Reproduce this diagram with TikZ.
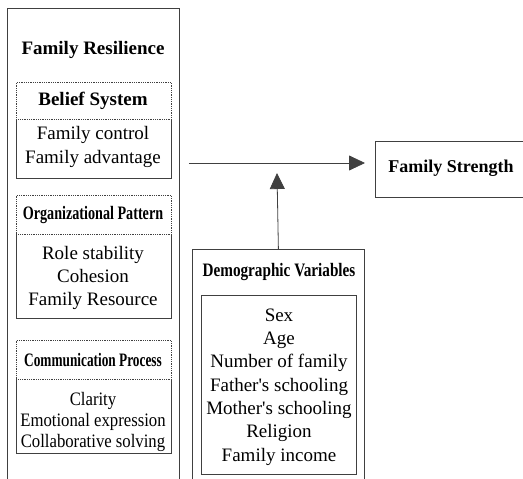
\documentclass[tikz,border=0pt]{standalone}
\usepackage{fontspec}
\setmainfont{Liberation Serif}
\usepackage{graphicx}
\usetikzlibrary{positioning,arrows.meta,calc}
\newcommand{\squeezed}[2]{\scalebox{#1}[1]{#2}}
\tikzset{
  frame/.style={draw=black!75, line width=0.8pt, inner sep=0pt},
  head/.style={draw=black!75, line width=0.8pt, densely dotted, inner sep=0pt, minimum width=155pt, anchor=north west},
  title/.style={font=\fontsize{19}{23}\selectfont\bfseries, inner sep=0pt},
  items/.style={font=\fontsize{19}{23.3}\selectfont, align=center, inner sep=0pt},
  link/.style={draw=black!75, line width=0.8pt, -{Triangle[length=16pt,width=15pt]}}
}

\begin{document}
\begin{tikzpicture}[x=1pt,y=-1pt]
  \useasboundingbox (0,0) rectangle (523,479);
  % outer boxes, open below the page edge
  \node[frame, anchor=north west, minimum width=172pt, minimum height=500pt] (resil) at (7,8) {};
  \node[frame, anchor=north west, minimum width=172pt, minimum height=300pt] (demo) at (192,249) {};
  \node[frame, anchor=north west, minimum width=155pt, minimum height=179pt] (demolist) at (201,295) {};
  \node[frame, anchor=north west, minimum width=152pt, minimum height=56pt] (strength) at (375,141) {};
  \coordinate (joint) at (277,163);
  % three groups: dotted header cell + solid body
  \foreach \g/\top/\hh/\bh in {belief/82/37/59, org/195/39/84, comm/340/39/74} {
    \node[head, minimum height={\hh pt}] (\g-head) at (16,\top) {};
    \draw[frame] (\g-head.south west) -- ++(0,\bh) -| (\g-head.south east);
  }
  % texts
  \node[title] (resil-title) at (93,50) {Family\ Resilience};
  \node[title] (belief-title) at (93,101) {Belief\ System};
  \node[items] (belief-items) at (93,147) {Family control\\Family advantage};
  \node[title] (org-title) at (93,215) {\squeezed{0.745}{Organizational Pattern}};
  \node[items] (org-items) at (93,278) {Role stability\\Cohesion\\Family Resource};
  \node[title] (comm-title) at (93,360) {\squeezed{0.70}{Communication Process}};
  \node[items, font=\fontsize{19}{20.7}\selectfont] (comm-items) at (93,422) {%
    \squeezed{0.88}{Clarity}\\\squeezed{0.88}{Emotional expression}\\\squeezed{0.88}{Collaborative solving}};
  \node[title] (demo-title) at (279,272) {\squeezed{0.8}{Demographic Variables}};
  \node[items] (demo-items) at (279,387) {Sex\\Age\\Number of family\\Father\textquotesingle s schooling\\Mother\textquotesingle s schooling\\Religion\\Family income};
  \node[title, font=\fontsize{18}{22}\selectfont\bfseries] (strength-title) at (451,168) {Family\ Strength};
  % connectors
  \draw[link] ([xshift=9pt]resil.east |- joint) -- ([xshift=-10pt]strength.west |- joint);
  \draw[link] (demo.north) -- ([yshift=-10pt]joint);
\end{tikzpicture}
\end{document}
